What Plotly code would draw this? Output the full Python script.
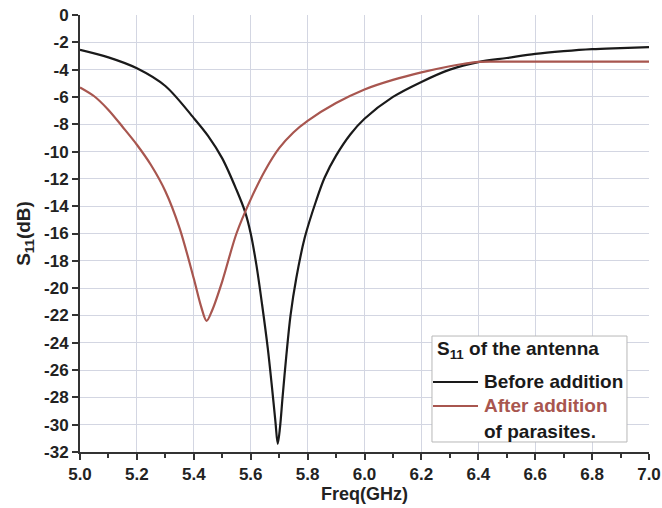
import plotly.graph_objects as go

# Frequency (GHz) and S11 (dB)
freq_before = [5.0, 5.1, 5.2, 5.3, 5.4, 5.45, 5.5, 5.55, 5.58, 5.60, 5.62, 5.64, 5.66, 5.675, 5.687,
               5.695, 5.703, 5.712, 5.725, 5.74, 5.76, 5.79, 5.83, 5.86, 5.9, 5.95, 6.0, 6.1, 6.2, 6.3, 6.4,
               6.5, 6.6, 6.7, 6.8, 6.9, 7.0]
s11_before = [-2.55, -3.1, -3.9, -5.2, -7.55, -8.85, -10.5, -12.8, -14.4, -16.0, -18.3, -21.2, -24.4, -27.3,
              -29.8, -31.4, -30.2, -28.0, -25.0, -22.0, -19.3, -16.3, -13.6, -11.9, -10.3, -8.75, -7.6, -6.0,
              -4.9, -4.0, -3.45, -3.15, -2.85, -2.65, -2.5, -2.42, -2.35]

freq_after = [5.0, 5.05, 5.1, 5.15, 5.2, 5.25, 5.3, 5.35, 5.4, 5.425, 5.445, 5.465, 5.5, 5.55, 5.6, 5.65, 5.7,
              5.75, 5.8, 5.9, 6.0, 6.1, 6.2, 6.3, 6.35, 6.4, 6.5, 6.6, 6.7, 6.8, 6.9, 7.0]
s11_after = [-5.3, -5.95, -6.95, -8.2, -9.5, -11.0, -12.9, -15.6, -19.3, -21.3, -22.4, -21.6, -19.5, -16.0,
             -13.5, -11.4, -9.75, -8.6, -7.75, -6.45, -5.45, -4.75, -4.2, -3.75, -3.57, -3.43, -3.42, -3.42,
             -3.42, -3.42, -3.42, -3.42]

x_ticks = [5.0, 5.2, 5.4, 5.6, 5.8, 6.0, 6.2, 6.4, 6.6, 6.8, 7.0]
y_ticks = list(range(0, -33, -2))

legend_title = "S<sub>11</sub> of the antenna"
legend_labels = ["Before addition", "After addition", "of parasites."]

BLACK = "#1a1a1a"
RED = "#a8564f"
FONT = "Liberation Sans, Arial, sans-serif"

fig = go.Figure()
fig.add_trace(go.Scatter(x=freq_before, y=s11_before, mode="lines", name=legend_labels[0], showlegend=False,
                         line=dict(color=BLACK, width=2.2, shape="spline", smoothing=0.9)))
fig.add_trace(go.Scatter(x=freq_after, y=s11_after, mode="lines", name=legend_labels[1], showlegend=False,
                         line=dict(color=RED, width=2.2, shape="spline", smoothing=0.9)))

# Hand-built legend box (paper coordinates)
lx0, lx1, ly0, ly1 = 0.6186, 0.9613, 0.0229, 0.2654
sample_x0, sample_x1, text_x = 0.6204, 0.6995, 0.7065
row_y = [0.1602, 0.1053, 0.0465]
shapes = [dict(type="rect", xref="paper", yref="paper", x0=lx0, x1=lx1, y0=ly0, y1=ly1,
               fillcolor="white", line=dict(color="#b8b8b8", width=1), layer="above")]
for yy, col in zip(row_y[:2], [BLACK, RED]):
    shapes.append(dict(type="line", xref="paper", yref="paper", x0=sample_x0, x1=sample_x1, y0=yy, y1=yy,
                       line=dict(color=col, width=2.2), layer="above"))
annotations = [dict(xref="paper", yref="paper", x=0.6239, y=0.2334, xanchor="left", yanchor="middle",
                    text=legend_title, showarrow=False,
                    font=dict(family=FONT, size=19, color=BLACK, weight="bold"))]
for yy, lab, col in zip(row_y, legend_labels, [BLACK, RED, BLACK]):
    annotations.append(dict(xref="paper", yref="paper", x=text_x, y=yy, xanchor="left", yanchor="middle",
                            text=lab, showarrow=False,
                            font=dict(family=FONT, size=19, color=col, weight="bold")))

fig.update_layout(
    width=662, height=508,
    margin=dict(l=80, r=13, t=15, b=56),
    plot_bgcolor="white", paper_bgcolor="white",
    font=dict(family=FONT, size=17, color="#222"),
    showlegend=False,
    shapes=shapes,
    annotations=annotations,
    xaxis=dict(
        range=[5.0, 7.0], tickvals=x_ticks, ticktext=[f"{v:.1f}" for v in x_ticks],
        automargin=False,
        showline=True, linecolor="#333", linewidth=2,
        ticks="outside", ticklen=6, tickwidth=2, tickcolor="#333",
        minor=dict(dtick=0.1, ticks="outside", ticklen=4, tickwidth=2, tickcolor="#333", showgrid=False),
        showgrid=True, gridcolor="#d3d6e2", gridwidth=1, zeroline=False,
        tickfont=dict(family=FONT, size=17, color="#222", weight="bold"),
        title=dict(text="Freq(GHz)", font=dict(family=FONT, size=18, color="#222", weight="bold"), standoff=0),
    ),
    yaxis=dict(
        range=[-32, 0], tickvals=y_ticks, ticktext=[str(v) for v in y_ticks],
        automargin=False,
        showline=True, linecolor="#333", linewidth=2,
        ticks="outside", ticklen=6, tickwidth=2, tickcolor="#333",
        showgrid=True, gridcolor="#d3d6e2", gridwidth=1, zeroline=False,
        tickfont=dict(family=FONT, size=17, color="#222", weight="bold"),
        title=dict(text="S<sub>11</sub>(dB)", font=dict(family=FONT, size=19, color="#222", weight="bold"),
                   standoff=8),
    ),
)

fig.write_html("out.html")
